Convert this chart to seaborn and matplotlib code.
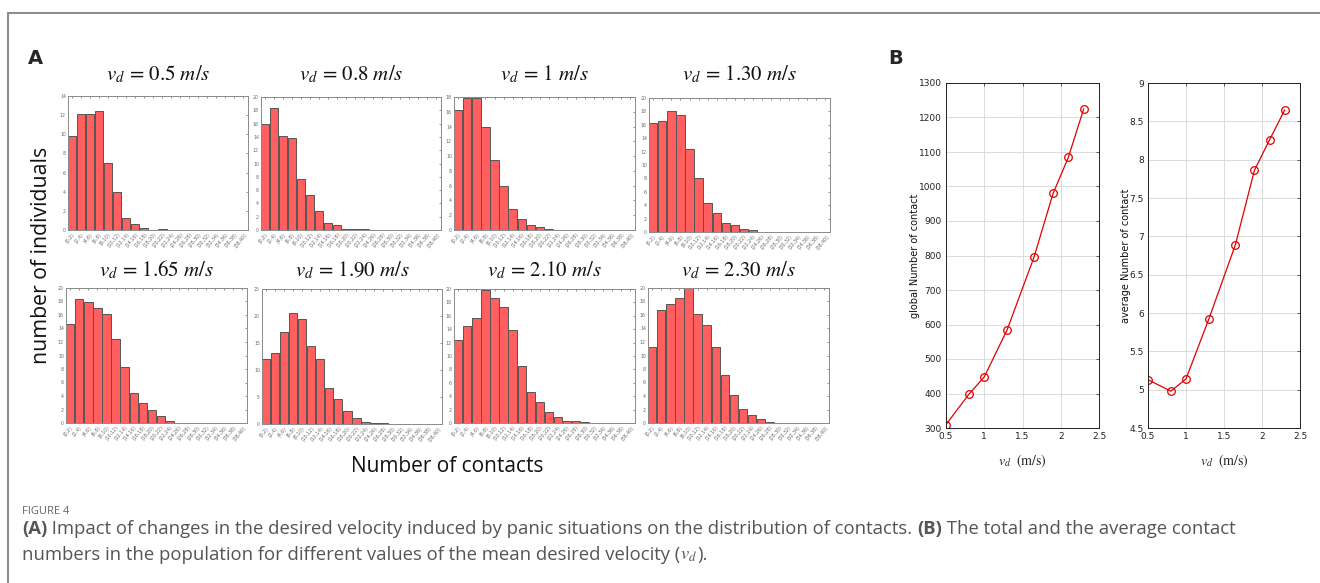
import numpy as np
import pandas as pd
import matplotlib
matplotlib.use("Agg")
import matplotlib.pyplot as plt
import seaborn as sns
from matplotlib.patches import Rectangle

sns.set_theme(style="white")
plt.rcParams['font.family'] = ['DejaVu Sans']
plt.rcParams['mathtext.fontset'] = 'stix'

# ---------------- data ----------------
bins = ["[0,2)", "[2,4)", "[4,6)", "[6,8)", "[8,10)", "[10,12)", "[12,14)", "[14,16)",
        "[16,18)", "[18,20)", "[20,22)", "[22,24)", "[24,26)", "[26,28)", "[28,30)",
        "[30,32)", "[32,34)", "[34,36)", "[36,38)", "[38,40]"]

titles = [r"$v_d\,=\,0.5\ m/s$", r"$v_d\,=\,0.8\ m/s$", r"$v_d\,=\,1\ m/s$", r"$v_d\,=\,1.30\ m/s$",
          r"$v_d\,=\,1.65\ m/s$", r"$v_d\,=\,1.90\ m/s$", r"$v_d\,=\,2.10\ m/s$", r"$v_d\,=\,2.30\ m/s$"]

h_05 = [9.8, 12.1, 12.15, 12.4, 7.0, 4.0, 1.3, 0.6, 0.25, 0.05, 0.1, 0.05, 0.05, 0, 0, 0, 0, 0, 0, 0]
h_08 = [16.0, 18.3, 14.1, 13.8, 7.6, 5.3, 2.8, 1.05, 0.7, 0.2, 0.15, 0.1, 0, 0, 0, 0, 0, 0, 0, 0]
h_10 = [16.2, 17.9, 17.9, 14.0, 9.5, 6.0, 2.9, 1.5, 0.7, 0.35, 0.15, 0.05, 0, 0, 0, 0, 0, 0, 0, 0]
h_13 = [16.3, 16.5, 18.1, 17.5, 12.4, 8.0, 4.3, 2.9, 1.4, 1.05, 0.4, 0.25, 0, 0, 0, 0, 0, 0, 0, 0]
h_165 = [14.6, 18.4, 17.9, 17.1, 16.1, 12.5, 8.3, 4.4, 3.0, 1.9, 1.0, 0.3, 0, 0, 0, 0, 0, 0, 0, 0]
h_19 = [12.1, 13.1, 17.1, 20.5, 19.4, 14.5, 12.1, 6.7, 4.6, 2.5, 1.1, 0.4, 0.15, 0.1, 0, 0, 0, 0, 0, 0]
h_21 = [12.4, 14.5, 15.6, 19.8, 18.7, 17.3, 13.9, 8.5, 4.6, 3.1, 1.7, 0.85, 0.3, 0.35, 0.15, 0, 0, 0, 0, 0]
h_23 = [11.2, 16.7, 17.6, 18.5, 20.0, 16.2, 14.5, 11.2, 7.1, 4.2, 2.1, 1.2, 0.6, 0.2, 0, 0, 0, 0, 0, 0]
hists = [h_05, h_08, h_10, h_13, h_165, h_19, h_21, h_23]
ymax = [14, 20, 18, 20, 20, 25, 20, 20]
ystep = [2, 2, 2, 2, 2, 5, 2, 2]

vd = [0.5, 0.8, 1.0, 1.3, 1.65, 1.9, 2.1, 2.3]
global_contacts = [310, 398, 448, 585, 795, 980, 1085, 1225]
average_contacts = [5.13, 4.98, 5.14, 5.92, 6.89, 7.86, 8.26, 8.65]

# ---------------- layout ----------------
W, H = 1320, 583
fig = plt.figure(figsize=(W / 100, H / 100), dpi=100)

def rect(l, t, r, b):
    return [l / W, 1 - b / H, (r - l) / W, (b - t) / H]

# frame
fig.patches.append(Rectangle((8 / W, -0.1), 1.2, (1 - 13 / H) + 0.1, transform=fig.transFigure,
                             fill=False, edgecolor="#8c8c8c", lw=1.5))

boxes = [(68, 96, 248, 230), (261, 97, 441, 230), (454, 97, 635, 230), (649, 98, 830, 232),
         (66, 288, 247, 423), (262, 289, 442, 424), (454, 289, 635, 423), (648, 288, 829, 423)]
title_y = [74, 74, 74, 74, 270, 270, 270, 270]

bar_color = "#ff5f5f"
spine_col = "#8a8a8a"
for i in range(8):
    l, t, r, b = boxes[i]
    ax = fig.add_axes(rect(l, t, r, b))
    df = pd.DataFrame({"bin": bins, "count": hists[i]})
    sns.barplot(data=df, x="bin", y="count", color=bar_color, saturation=1, width=0.92,
                edgecolor="#555555", linewidth=0.7, ax=ax)
    ax.set_xlim(-0.47, 19.5)
    ax.set_ylim(0, ymax[i])
    ax.set_yticks(np.arange(0, ymax[i] + 0.1, ystep[i]))
    ax.set_xlabel("")
    ax.set_ylabel("")
    ax.tick_params(axis="both", direction="in", length=1.5, width=0.5, colors="#666666",
                   labelsize=3.3, top=True, right=True, pad=1.5)
    plt.setp(ax.get_xticklabels(), rotation=50, ha="right", rotation_mode="anchor")
    for s in ax.spines.values():
        s.set_color(spine_col)
        s.set_linewidth(0.7)
    fig.text(((l + r) / 2 - 0) / W, 1 - title_y[i] / H, titles[i], ha="center", va="center",
             fontsize=15, color="#111111")

fig.text(42 / W, 1 - 255 / H, "number of individuals", rotation=90, ha="center", va="center",
         fontsize=15.3, family="Open Sans", color="#111111")
fig.text(447 / W, 1 - 466 / H, "Number of contacts", ha="center", va="center",
         fontsize=15, family="Open Sans", color="#111111")
fig.text(35 / W, 1 - 58 / H, "A", ha="center", va="center", fontsize=14, weight="bold")
fig.text(896 / W, 1 - 58 / H, "B", ha="center", va="center", fontsize=14, weight="bold")

# panel B
def line_panel(box, y, ylim, yticks, ylab):
    ax = fig.add_axes(rect(*box))
    df = pd.DataFrame({"vd": vd, "y": y})
    sns.lineplot(data=df, x="vd", y="y", color="#e00000", lw=0.9, marker="o", markersize=5.5,
                 markerfacecolor="none", markeredgecolor="#e00000", markeredgewidth=0.9, ax=ax)
    ax.set_xlim(0.5, 2.5)
    ax.set_ylim(*ylim)
    ax.set_xticks([0.5, 1, 1.5, 2, 2.5])
    ax.set_xticklabels(["0.5", "1", "1.5", "2", "2.5"])
    ax.set_yticks(yticks)
    ax.set_yticklabels([("%g" % v) for v in yticks])
    ax.grid(True, color="#d6d6d6", lw=0.6)
    ax.tick_params(axis="both", direction="in", length=2, width=0.5, colors="#222222",
                   labelsize=6.5, top=True, right=True, pad=3)
    for s in ax.spines.values():
        s.set_color("#222222")
        s.set_linewidth(0.7)
    ax.set_xlabel(r"$v_d\ \ \mathrm{(m/s)}$", fontsize=10, labelpad=8, color="#222222")
    ax.set_ylabel(ylab, fontsize=7, color="#111111", labelpad=-1)
    return ax

line_panel((946, 83, 1099, 428), global_contacts, (300, 1300), list(range(300, 1301, 100)),
           "global Number of contact")
line_panel((1148, 83, 1300, 428), average_contacts, (4.5, 9), list(np.arange(4.5, 9.01, 0.5)),
           "average Number of contact")

# caption
cap_col = "#555555"
fig.text(22 / W, 1 - 512 / H, "FIGURE 4", ha="left", va="center", fontsize=8, color="#666666",
         family="Open Sans")

renderer = fig.canvas.get_renderer()
def seq_text(x_px, y_px, pieces, size):
    x = x_px
    for txt, bold in pieces:
        t = fig.text(x / W, 1 - y_px / H, txt, ha="left", va="center", fontsize=size,
                     color=cap_col, family="Open Sans", weight="bold" if bold else "normal")
        bb = t.get_window_extent(renderer)
        x += bb.width

seq_text(22, 529, [("(A)", True), ("\u00a0Impact of changes in the desired velocity induced by panic situations on the distribution of contacts.\u00a0", False),
                   ("(B)", True), ("\u00a0The total and the average contact", False)], 13.3)
seq_text(22, 555, [("numbers in the population for different values of the mean desired velocity (", False),
                   (r"$v_d$", False), (").", False)], 13.3)

fig.savefig("out.png", dpi=100)
